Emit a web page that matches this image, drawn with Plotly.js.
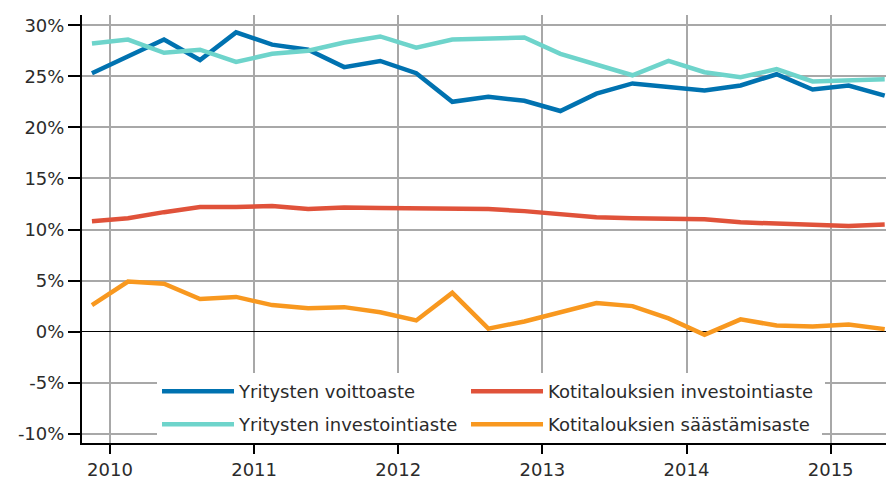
<!DOCTYPE html>
<html>
<head>
<meta charset="utf-8">
<script src="https://cdn.plot.ly/plotly-3.0.1.min.js"></script>
<style>html,body{margin:0;padding:0;background:#fff;}</style>
</head>
<body>
<div id="chart" style="width:886px;height:486px;"></div>
<script>
const quarters = ["2009Q4",
  "2010Q1","2010Q2","2010Q3","2010Q4",
  "2011Q1","2011Q2","2011Q3","2011Q4",
  "2012Q1","2012Q2","2012Q3","2012Q4",
  "2013Q1","2013Q2","2013Q3","2013Q4",
  "2014Q1","2014Q2","2014Q3","2014Q4",
  "2015Q1","2015Q2"];

const seriesNames = ["Yritysten voittoaste", "Kotitalouksien investointiaste",
                     "Yritysten investointiaste", "Kotitalouksien säästämisaste"];

const voittoaste = [25.3, 26.9, 28.6, 26.6, 29.3, 28.1, 27.6, 25.9, 26.5, 25.3, 22.5, 23.0,
                    22.6, 21.6, 23.3, 24.3, 24.0, 23.6, 24.1, 25.2, 23.7, 24.1, 23.1];
const kotitInvestointiaste = [10.8, 11.1, 11.7, 12.2, 12.2, 12.3, 12.0, 12.15, 12.1, 12.05, 11.95, 12.0,
                    11.8, 11.5, 11.2, 11.1, 11.05, 11.0, 10.7, 10.6, 10.5, 10.35, 10.5];
const yritInvestointiaste = [28.2, 28.6, 27.3, 27.6, 26.4, 27.2, 27.5, 28.3, 28.9, 27.8, 28.6, 28.7,
                    28.8, 27.2, 26.2, 25.1, 26.5, 25.4, 24.9, 25.7, 24.5, 24.6, 24.7];
const saastamisaste = [2.6, 4.9, 4.7, 3.2, 3.4, 2.6, 2.3, 2.4, 1.9, 1.1, 3.8, 0.3,
                    1.0, 1.9, 2.8, 2.5, 1.3, -0.3, 1.2, 0.6, 0.5, 0.7, 0.25];

const yearTicks = [2010, 2011, 2012, 2013, 2014, 2015];
const yearLabels = ["2010", "2011", "2012", "2013", "2014", "2015"];
const yTicks = [-10, -5, 0, 5, 10, 15, 20, 25, 30];
const yLabels = ["-10%", "-5%", "0%", "5%", "10%", "15%", "20%", "25%", "30%"];

const colors = ["#0072b0", "#e0523a", "#6ed4cb", "#f8981f"];
const legendOf = ["legend", "legend", "legend2", "legend2"];

// place each quarter at its mid-point on a decimal-year axis
const xq = quarters.map(q => {
  const y = parseInt(q.slice(0, 4), 10);
  const n = parseInt(q.slice(5), 10);
  return y + (n - 0.5) / 4;
});

const values = [voittoaste, kotitInvestointiaste, yritInvestointiaste, saastamisaste];
const traces = values.map((v, i) => ({
  type: "scatter", mode: "lines",
  x: xq, y: v, name: seriesNames[i],
  legend: legendOf[i],
  line: {color: colors[i], width: 4.5},
  hoverinfo: "skip"
}));

const legendBase = {
  orientation: "h", x: 0.0933, xanchor: "left", yanchor: "top",
  bgcolor: "#ffffff", borderwidth: 0,
  itemwidth: 72,
  entrywidth: 222, entrywidthmode: "pixels",
  font: {size: 18, color: "#2b2b2b"}, traceorder: "normal"
};

const layout = {
  width: 886, height: 486,
  margin: {l: 82, r: 0, t: 15, b: 43, pad: 0},
  paper_bgcolor: "#ffffff", plot_bgcolor: "#ffffff",
  font: {family: "DejaVu Sans, Verdana, sans-serif", size: 18, color: "#2b2b2b"},
  showlegend: true,
  xaxis: {
    range: [2009.806, 2015.384],
    tickmode: "array", tickvals: yearTicks, ticktext: yearLabels,
    showgrid: true, gridcolor: "#a8a8a8", gridwidth: 2,
    ticks: "outside", ticklen: 9, tickwidth: 2, tickcolor: "#000",
    showline: true, linecolor: "#000", linewidth: 2,
    zeroline: false, fixedrange: true
  },
  yaxis: {
    range: [-10.9, 31.0],
    tickmode: "array", tickvals: yTicks, ticktext: yLabels,
    showgrid: true, gridcolor: "#a8a8a8", gridwidth: 2,
    zeroline: true, zerolinecolor: "#000", zerolinewidth: 1.5,
    ticks: "outside", ticklen: 12, tickwidth: 2, tickcolor: "#000",
    showline: true, linecolor: "#000", linewidth: 2,
    fixedrange: true
  },
  legend: Object.assign({}, legendBase, {y: 0.1636}),
  legend2: Object.assign({}, legendBase, {y: 0.0864})
};

Plotly.newPlot("chart", traces, layout, {displayModeBar: false, staticPlot: true}).then(() => {
  // let the long legend labels show in full and widen the white legend boxes to fit them
  document.querySelectorAll("#chart .scrollbox").forEach(box => {
    box.removeAttribute("clip-path");
    const lg = box.parentNode;
    const bb = box.getBBox();
    const bg = lg.querySelector("rect.bg");
    if (bg) bg.setAttribute("width", bb.x + bb.width + 12);
  });
});
</script>
</body>
</html>
